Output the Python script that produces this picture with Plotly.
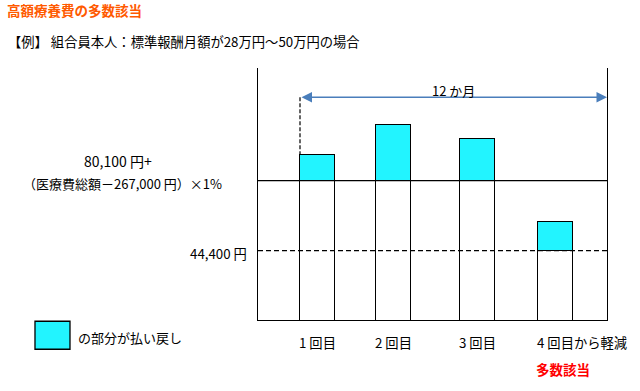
import plotly.graph_objects as go

# ---- data ----
labels = ["1 回目", "2 回目", "3 回目", "4 回目から軽減"]
bar_month = [0.684, 3.655, 6.94, 9.99]          # bar centres, months from the first hit
total_cost = [105300, 124300, 115400, 62800]    # monthly self-pay (illustrative)
limit = [88800, 88800, 88800, 44400]            # self-pay ceiling per month
upper_limit_value = 88800
lower_limit_value = 44400
span_months = 12
x_min = -1.6417
y_min = 410
y_max = 160250
arrow_level = 141650

title = "高額療養費の多数該当"
subtitle = "【例】 組合員本人：標準報酬月額が28万円～50万円の場合"
upper_label_1 = "80,100 円+"
upper_label_2 = "（医療費総額－267,000 円）×1%"
lower_label = "44,400 円"
span_label = "12 か月"
legend_label = "の部分が払い戻し"
multi_label = "多数該当"

FONT = "Noto Sans CJK JP"
CYAN = "#22F4FF"
BLUE = "#4A7EBB"
bar_w = 1.368
lw = 1.3

refund = [t - l for t, l in zip(total_cost, limit)]

fig = go.Figure()
fig.add_trace(go.Bar(x=bar_month, y=limit, width=bar_w,
                     marker=dict(color="white", line=dict(color="black", width=lw)),
                     showlegend=False, hoverinfo="skip"))
fig.add_trace(go.Bar(x=bar_month, y=refund, width=bar_w,
                     marker=dict(color=CYAN, line=dict(color="black", width=lw)),
                     showlegend=False, hoverinfo="skip"))

# horizontal reference lines
fig.add_trace(go.Scatter(x=[x_min, span_months], y=[upper_limit_value] * 2, mode="lines",
                         line=dict(color="black", width=lw), showlegend=False, hoverinfo="skip"))
fig.add_trace(go.Scatter(x=[x_min, span_months], y=[lower_limit_value] * 2, mode="lines",
                         line=dict(color="black", width=lw, dash="5px,3px"),
                         showlegend=False, hoverinfo="skip"))
# dashed vertical at the start of the 12-month span
start = bar_month[0] - bar_w / 2
fig.add_trace(go.Scatter(x=[start, start], y=[arrow_level, total_cost[0]], mode="lines",
                         line=dict(color="black", width=1.2, dash="4px,2px"),
                         showlegend=False, hoverinfo="skip"))

# 12-month arrow
fig.add_annotation(x=start + span_months, y=arrow_level, ax=start, ay=arrow_level,
                   xref="x", yref="y", axref="x", ayref="y", text="",
                   showarrow=True, arrowhead=2, arrowside="end+start",
                   arrowsize=1.4, arrowwidth=1.5, arrowcolor=BLUE)
fig.add_annotation(x=start + span_months / 2, y=arrow_level, xref="x", yref="y",
                   text=span_label, showarrow=False, yshift=7,
                   font=dict(family=FONT, size=13, color="#000"))

# category labels under bars
for m, lab in zip(bar_month, labels):
    fig.add_annotation(x=m - bar_w / 2, y=0, xref="x", yref="paper", text=lab,
                       showarrow=False, xanchor="left", yanchor="middle",
                       xshift=-3, yshift=-22,
                       font=dict(family=FONT, size=13.3, color="#000"))
fig.add_annotation(x=bar_month[-1] - bar_w / 2, y=0, xref="x", yref="paper", text="<b>" + multi_label + "</b>",
                   showarrow=False, xanchor="left", yanchor="middle", xshift=-4, yshift=-49,
                   font=dict(family=FONT, size=13.5, color="#FF0000"))

# left labels
fig.add_annotation(x=0, y=upper_limit_value, xref="paper", yref="y", text=upper_label_1,
                   showarrow=False, xanchor="center", yanchor="middle", xshift=-140, yshift=20,
                   font=dict(family=FONT, size=14, color="#000"))
fig.add_annotation(x=0, y=upper_limit_value, xref="paper", yref="y", text=upper_label_2,
                   showarrow=False, xanchor="center", yanchor="middle", xshift=-136, yshift=-3,
                   font=dict(family=FONT, size=13, color="#000"))
fig.add_annotation(x=0, y=lower_limit_value, xref="paper", yref="y", text=lower_label,
                   showarrow=False, xanchor="right", yanchor="middle", xshift=-9, yshift=-3,
                   font=dict(family=FONT, size=13.3, color="#000"))

# titles
fig.add_annotation(x=0, y=1, xref="paper", yref="paper", text="<b>" + title + "</b>",
                   showarrow=False, xanchor="left", yanchor="middle", xshift=-253, yshift=58,
                   font=dict(family=FONT, size=13.5, color="#FF5A00"))
fig.add_annotation(x=0, y=1, xref="paper", yref="paper", text=subtitle,
                   showarrow=False, xanchor="left", yanchor="middle", xshift=-252, yshift=27,
                   font=dict(family=FONT, size=13.3, color="#000"))

# legend swatch + text
fig.add_shape(type="rect", xref="paper", yref="paper", x0=-0.639, x1=-0.5387, y0=-0.116, y1=-0.005,
              fillcolor=CYAN, line=dict(color="black", width=lw))
fig.add_annotation(x=-0.5387, y=-0.0714, xref="paper", yref="paper", text=legend_label,
                   showarrow=False, xanchor="left", yanchor="middle", xshift=6,
                   font=dict(family=FONT, size=13, color="#000"))

fig.update_layout(
    width=640, height=391,
    margin=dict(l=258, r=33, t=68, b=71),
    paper_bgcolor="white", plot_bgcolor="white",
    barmode="stack", bargap=0,
    showlegend=False,
    xaxis=dict(range=[x_min, span_months], showgrid=False, zeroline=False, showticklabels=False,
               ticks="", showline=True, linecolor="black", linewidth=lw, fixedrange=True),
    yaxis=dict(range=[y_min, y_max], showgrid=False, zeroline=False, showticklabels=False,
               ticks="", showline=True, mirror=True, linecolor="black", linewidth=lw, fixedrange=True),
)

fig.write_html("out.html", config={"displayModeBar": False},
               post_script="document.body.style.margin='0';document.body.style.padding='0';"
                           "document.body.style.overflow='hidden';")
